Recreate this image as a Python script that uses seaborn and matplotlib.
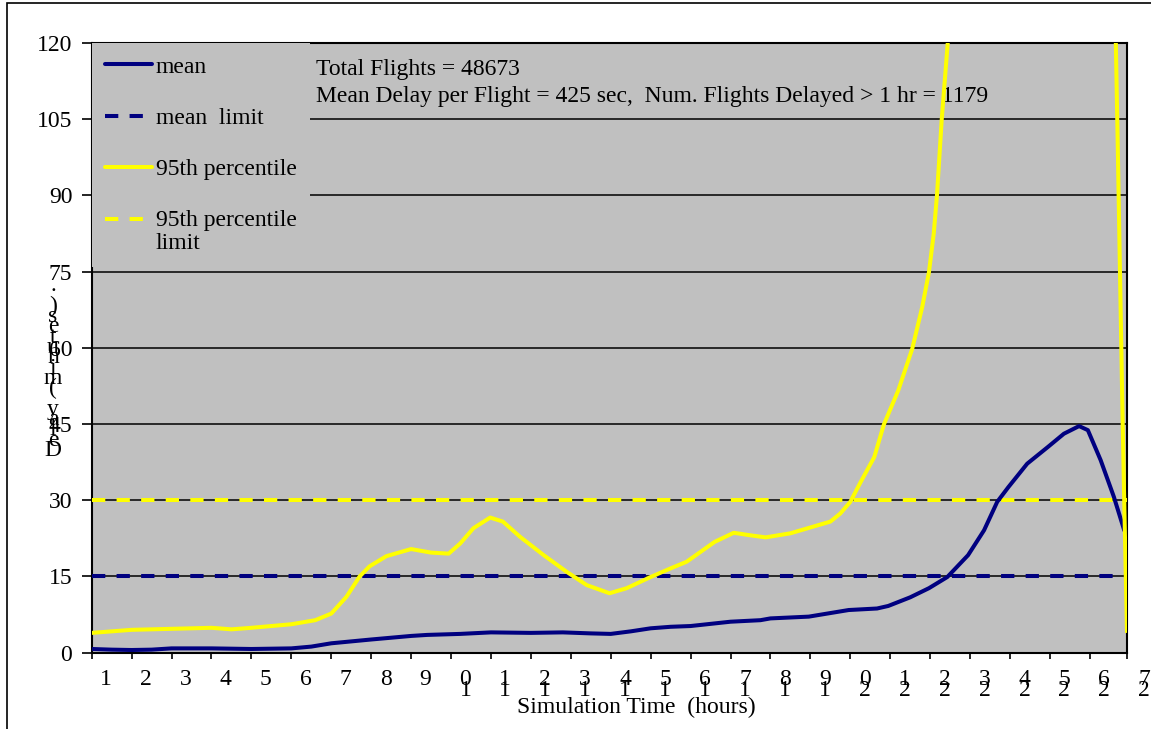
import numpy as np
import pandas as pd
import matplotlib
matplotlib.use("Agg")
import matplotlib.pyplot as plt
from matplotlib.lines import Line2D
import seaborn as sns

# Mean delay per flight (minutes) against simulation time (hours)
mean_time = [0.0, 0.5, 1.0, 1.5, 2.0, 3.0, 4.0, 5.0, 5.5, 6.0, 7.0, 8.0, 8.4,
             9.23, 10.0, 11.0, 11.8, 12.5, 13.0, 13.5, 14.0, 14.5, 15.0, 16.0,
             16.75, 17.0, 17.96, 18.96, 19.67, 19.95, 20.5, 20.97, 21.43, 21.95,
             22.35, 22.68, 22.96, 23.43, 23.95, 24.35, 24.73, 24.95, 25.27, 25.6,
             25.86, 25.93]
mean_delay = [0.73, 0.6, 0.53, 0.6, 0.85, 0.85, 0.73, 0.85, 1.2, 1.85, 2.6, 3.3, 3.5,
              3.7, 4.0, 3.9, 4.0, 3.8, 3.7, 4.2, 4.8, 5.1, 5.25, 6.1,
              6.4, 6.75, 7.1, 8.4, 8.7, 9.2, 10.9, 12.7, 14.9, 19.2,
              24.1, 29.7, 32.6, 37.2, 40.5, 43.1, 44.6, 43.8, 37.9, 30.7,
              24.1, 23.5]

# 95th percentile delay (minutes); the peak runs far above the 120 min scale
p95_time = [0.0, 1.0, 2.0, 3.0, 3.5, 4.0, 5.0, 5.6, 6.0, 6.38, 6.71, 6.96, 7.38,
            8.0, 8.5, 8.94, 9.23, 9.56, 9.98, 10.3, 10.73, 11.32, 11.9, 12.4,
            12.97, 13.4, 14.0, 14.5, 14.9, 15.6, 16.08, 16.5, 16.88, 17.5, 18.5,
            18.75, 19.0, 19.26, 19.6, 19.84, 20.2, 20.55, 20.8, 20.97, 21.09,
            21.17, 21.23, 21.29, 21.44, 21.7, 22.5, 23.5, 24.5, 25.2, 25.65, 25.7,
            25.81, 25.86, 25.93]
p95_delay = [3.9, 4.5, 4.7, 4.9, 4.6, 4.9, 5.6, 6.4, 7.7, 11.0, 15.0, 17.0, 19.0,
             20.4, 19.7, 19.5, 21.5, 24.5, 26.6, 25.8, 22.8, 19.2, 15.9, 13.3,
             11.7, 12.7, 14.9, 16.6, 17.9, 21.8, 23.6, 23.1, 22.7, 23.5, 25.8,
             27.4, 29.7, 33.6, 38.5, 44.9, 51.6, 59.8, 68.0, 74.9, 82.5,
             90.0, 97.5, 105.0, 120.0, 150.0, 210.0, 250.0, 240.0, 190.0, 120.0, 99.0,
             50.0, 30.0, 3.9]

mean_limit = 15
p95_limit = 30

hour_labels = [str(h) for h in range(1, 28)]
y_ticks = [0, 15, 30, 45, 60, 75, 90, 105, 120]
x_max = 25.93

total_flights = 48673
mean_delay_sec = 425
flights_over_1hr = 1179

NAVY = "#000080"
YELLOW = "#FFFF00"
PANEL = "#C0C0C0"
LW = 2.9
DASH = (3.3, 2.8)
FS = 17

sns.set_style("white")
plt.rcParams["font.family"] = ["Liberation Serif", "DejaVu Serif"]
plt.rcParams["font.size"] = FS
for key in ("text.color", "axes.labelcolor", "xtick.color", "ytick.color"):
    plt.rcParams[key] = "black"

W, H = 1151, 729
fig = plt.figure(figsize=(W / 100, H / 100), dpi=100)
ax_l, ax_r, ax_t, ax_b = 91.7, 1127.0, 43.0, 652.7
ax = fig.add_axes([ax_l / W, 1 - ax_b / H, (ax_r - ax_l) / W, (ax_b - ax_t) / H])
ax.set_facecolor(PANEL)


def ax_x(px):
    return (px - ax_l) / (ax_r - ax_l)


def ax_y(py):
    return (ax_b - py) / (ax_b - ax_t)


mean_df = pd.DataFrame({"time": mean_time, "delay": mean_delay})
p95_df = pd.DataFrame({"time": p95_time, "delay": p95_delay})

sns.lineplot(data=mean_df, x="time", y="delay", ax=ax, color=NAVY, linewidth=LW,
             sort=False, estimator=None, zorder=4)
line_mean = ax.lines[-1]
sns.lineplot(data=p95_df, x="time", y="delay", ax=ax, color=YELLOW, linewidth=LW,
             sort=False, estimator=None, zorder=6)
line_p95 = ax.lines[-1]
for ln in (line_mean, line_p95):
    ln.set_solid_joinstyle("round")
    ln.set_solid_capstyle("butt")

ax.axhline(mean_limit, color=NAVY, lw=LW, dashes=DASH, zorder=3)
ax.axhline(p95_limit, color=YELLOW, lw=LW, dashes=DASH, zorder=3)

# horizontal grid
ax.set_axisbelow(True)
ax.yaxis.grid(True, color="black", lw=1.1)
ax.xaxis.grid(False)
for s in ax.spines.values():
    s.set_color("black")
    s.set_linewidth(1.5)
    s.set_visible(True)

ax.set_yticks(y_ticks)
ax.set_yticklabels([str(v) for v in y_ticks])
ax.tick_params(axis="y", which="major", direction="out", length=7, width=1.2,
               color="black", pad=7, labelsize=FS, left=True)

# hour ticks; category labels sit between them
ax.set_xticks(list(range(0, 26)) + [x_max])
ax.set_xticklabels([])
ax.tick_params(axis="x", which="major", direction="out", length=4.5, width=1.2,
               color="black", bottom=True)
ax.set_xlim(0, x_max)
ax.set_ylim(0, 120)

# two-digit hours are stacked: units digit on top, tens digit below
xtrans = ax.get_xaxis_transform()
for k, lab in enumerate(hour_labels):
    if len(lab) == 1:
        txt, base = lab, 685
    else:
        txt, base = lab[1] + "\n" + lab[0], 696
    ax.text(k + 0.36, ax_y(base), txt, transform=xtrans, ha="center",
            va="baseline", fontsize=FS, linespacing=0.385, clip_on=False)

ax.set_xlabel("Simulation Time  (hours)", fontsize=FS)
ax.xaxis.label.set_va("center")
ax.xaxis.set_label_coords(ax_x(636), ax_y(707))

# vertical title, one character per line, read from the bottom up
ylab = "\n".join(reversed("Delay (minutes) ."))
ax.set_ylabel(ylab, rotation=0, fontsize=FS, linespacing=0.331)
ax.yaxis.label.set_va("center")
ax.yaxis.label.set_ha("center")
ax.yaxis.set_label_coords(ax_x(53), ax_y(368))

ax.text(ax_x(316), ax_y(83),
        f"Total Flights = {total_flights}\n"
        f"Mean Delay per Flight = {mean_delay_sec} sec,  "
        f"Num. Flights Delayed > 1 hr = {flights_over_1hr}",
        transform=ax.transAxes, ha="left", va="center", fontsize=FS,
        linespacing=1.38, zorder=5)

handles = [
    Line2D([], [], color=NAVY, lw=LW),
    Line2D([], [], color=NAVY, lw=LW, dashes=DASH),
    Line2D([], [], color=YELLOW, lw=LW),
    Line2D([], [], color=YELLOW, lw=LW, dashes=DASH),
]
labels = ["mean", "mean  limit", "95th percentile", "95th percentile\nlimit"]
leg = ax.legend(handles, labels, loc="upper left", bbox_to_anchor=(0, 1),
                borderaxespad=0, frameon=True, facecolor=PANEL, edgecolor="none",
                framealpha=1, fancybox=False, handlelength=2.0, handletextpad=0.17,
                labelspacing=1.26, borderpad=0.55, fontsize=FS)
leg.set_zorder(5)
for t in leg.get_texts():
    t.set_linespacing(1.13)
# key of the two-line entry sits level with its first line
last = leg.legend_handles[-1]
last.set_ydata(np.asarray(last.get_ydata()) + 9.0)

# outer frame of the chart
fig.add_artist(plt.Rectangle((7 / W, -0.05), 1.2, 1.05 - 3 / H,
                             transform=fig.transFigure, fill=False,
                             edgecolor="black", lw=1.2))

fig.savefig("out.png", dpi=100)
